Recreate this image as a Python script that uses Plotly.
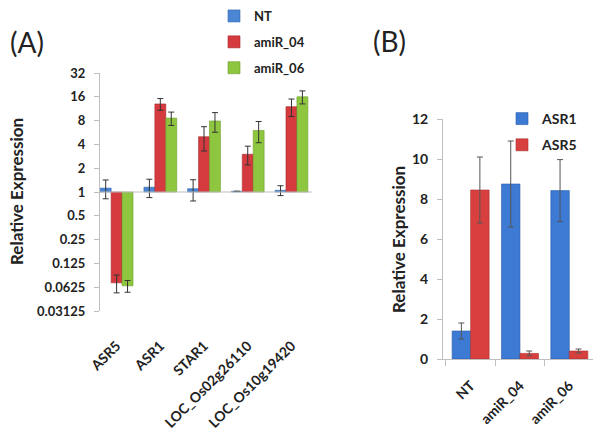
import plotly.graph_objects as go

# ---------------- Panel A data ----------------
genes_a = ["ASR5", "ASR1", "STAR1", "LOC_Os02g26110", "LOC_Os10g19420"]
nt_vals = [1.12, 1.15, 1.10, 1.02, 1.05]
nt_err = [0.30, 0.30, 0.33, 0.0, 0.15]
amir04_vals = [0.071, 13.0, 5.0, 3.0, 12.0]
amir04_err = [0.018, 2.2, 1.7, 0.8, 3.0]
amir06_vals = [0.065, 8.6, 7.9, 6.0, 16.0]
amir06_err = [0.011, 1.65, 2.2, 1.8, 3.0]
ytick_vals_a = [0.03125, 0.0625, 0.125, 0.25, 0.5, 1, 2, 4, 8, 16, 32]
ytick_text_a = ["0.03125", "0.0625", "0.125", "0.25", "0.5", "1", "2", "4", "8", "16", "32"]

# ---------------- Panel B data ----------------
lines_b = ["NT", "amiR_04", "amiR_06"]
asr1_vals = [1.4, 8.75, 8.42]
asr1_err = [0.4, 2.15, 1.55]
asr5_vals = [8.45, 0.28, 0.40]
asr5_err = [1.65, 0.12, 0.10]

BASE = 1.0
FONT = "Lato"
blue_a, red_a, green_a = "#4b86d4", "#d43a3e", "#8fc63f"
blue_a_l, red_a_l, green_a_l = "#2f64ad", "#a82a2c", "#6c9c2a"
blue_b, red_b = "#3c7ad4", "#d8403f"
blue_b_l, red_b_l = "#2b5ca8", "#ab2e2e"
AX = "#bfbfbf"
TXT = "#222222"

fig = go.Figure()

def err(arr, color="#333333"):
    return dict(type="data", array=arr, visible=True, color=color, thickness=1, width=3)

for name, vals, e, col, lc, lg in [("NT", nt_vals, nt_err, blue_a, blue_a_l, "g1"),
                                   ("amiR_04", amir04_vals, amir04_err, red_a, red_a_l, "g2"),
                                   ("amiR_06", amir06_vals, amir06_err, green_a, green_a_l, "g3")]:
    fig.add_trace(go.Bar(
        x=genes_a, y=[v - BASE for v in vals], base=BASE, name=name,
        marker=dict(color=col, line=dict(color=lc, width=0.6)),
        error_y=err(e), xaxis="x", yaxis="y", legend="legend", legendgroup=lg,
    ))

for name, vals, e, col, lc, lg in [("ASR1", asr1_vals, asr1_err, blue_b, blue_b_l, "h1"),
                                   ("ASR5", asr5_vals, asr5_err, red_b, red_b_l, "h2")]:
    fig.add_trace(go.Bar(
        x=lines_b, y=vals, name=name,
        marker=dict(color=col, line=dict(color=lc, width=0.6)),
        error_y=err(e, "#555555"), xaxis="x2", yaxis="y2", legend="legend2", legendgroup=lg,
    ))

W, H = 600, 438
def px(x):
    return x / W
def py(y):
    return 1 - y / H

fig.update_layout(
    template="none",
    width=W, height=H,
    margin=dict(l=0, r=0, t=0, b=0, autoexpand=False),
    paper_bgcolor="white", plot_bgcolor="white",
    font=dict(family=FONT, color=TXT),
    barmode="group",
    showlegend=True,
    xaxis=dict(domain=[px(100), px(312)], anchor="y", type="category", automargin=False,
               range=[-0.38, 4.47], showline=False, showgrid=False,
               ticks="", tickangle=-45, ticklabelstandoff=23,
               tickfont=dict(family=FONT, size=14, color=TXT, weight="bold")),
    yaxis=dict(domain=[py(311), py(73)], anchor="x", type="log", automargin=False,
               range=[-1.50515, 1.50515], showline=True, linecolor=AX, linewidth=1,
               showgrid=False, zeroline=False, ticks="outside", ticklen=5, tickcolor=AX,
               ticklabelstandoff=6,
               tickvals=ytick_vals_a, ticktext=ytick_text_a,
               tickfont=dict(family=FONT, size=13, color=TXT, weight="bold")),
    xaxis2=dict(domain=[px(443), px(593)], anchor="y2", type="category", automargin=False,
                range=[-0.56, 2.48], showline=True, linecolor=AX, linewidth=1,
                showgrid=False, ticks="outside", tickson="boundaries", ticklen=6, tickcolor=AX,
                tickangle=-45, ticklabelstandoff=12,
                tickfont=dict(family=FONT, size=14, color=TXT, weight="bold")),
    yaxis2=dict(domain=[py(359), py(119)], anchor="x2", range=[0, 12], dtick=2, automargin=False,
                showline=True, linecolor=AX, linewidth=1, showgrid=False, zeroline=False,
                ticks="outside", ticklen=5, tickcolor=AX, ticklabelstandoff=6,
                tickfont=dict(family=FONT, size=14, color=TXT, weight="bold")),
    bargap=0.25, bargroupgap=0,
    legend=dict(x=px(214), y=py(1), xanchor="left", yanchor="top",
                bgcolor="rgba(0,0,0,0)", tracegroupgap=6,
                font=dict(family=FONT, size=13, color=TXT, weight="bold")),
    legend2=dict(x=px(502), y=py(103), xanchor="left", yanchor="top",
                 bgcolor="rgba(0,0,0,0)", tracegroupgap=5,
                 font=dict(family=FONT, size=14, color=TXT, weight="bold")),
    shapes=[dict(type="line", xref="x domain", yref="y", x0=0, x1=1, y0=BASE, y1=BASE,
                 line=dict(color=AX, width=1), layer="above")],
    annotations=[
        dict(text="(A)", x=px(27), y=py(42), xref="paper", yref="paper",
             xanchor="center", yanchor="middle",
             showarrow=False, font=dict(family=FONT, size=28, color=TXT)),
        dict(text="(B)", x=px(389), y=py(41), xref="paper", yref="paper",
             xanchor="center", yanchor="middle",
             showarrow=False, font=dict(family=FONT, size=28, color=TXT)),
        dict(text="Relative Expression", x=px(16), y=py(192), xref="paper", yref="paper",
             xanchor="center", yanchor="middle", textangle=-90,
             showarrow=False, font=dict(family=FONT, size=17, color=TXT, weight="bold")),
        dict(text="Relative Expression", x=px(398), y=py(240), xref="paper", yref="paper",
             xanchor="center", yanchor="middle", textangle=-90,
             showarrow=False, font=dict(family=FONT, size=17, color=TXT, weight="bold")),
    ],
)

fig.write_html("out.html", config={"displayModeBar": False},
               post_script="document.body.style.margin='0';")
